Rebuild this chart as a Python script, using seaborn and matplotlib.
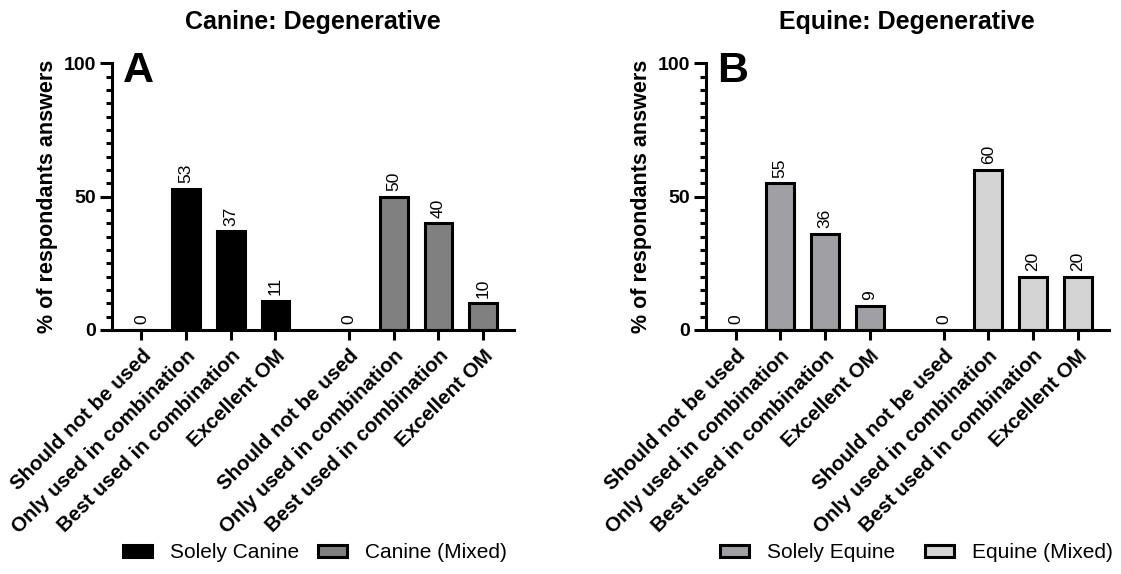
import numpy as np
import pandas as pd
import matplotlib
matplotlib.use("Agg")
import matplotlib.pyplot as plt
from matplotlib.patches import Patch
from matplotlib.ticker import MultipleLocator
import seaborn as sns

# Survey answers (% of respondents) per rating category
categories = ["Should not be used", "Only used in combination",
              "Best used in combination", "Excellent OM"]
canine_solely = [0, 53, 37, 11]
canine_mixed = [0, 50, 40, 10]
equine_solely = [0, 55, 36, 9]
equine_mixed = [0, 60, 20, 20]

panels = [
    dict(title="Canine: Degenerative", letter="A",
         groups=["Solely Canine", "Canine (Mixed)"],
         values=[canine_solely, canine_mixed],
         colors=["#000000", "#808080"]),
    dict(title="Equine: Degenerative", letter="B",
         groups=["Solely Equine", "Equine (Mixed)"],
         values=[equine_solely, equine_mixed],
         colors=["#a0a0a4", "#d4d4d4"]),
]

sns.set_style("ticks")
plt.rcParams["font.family"] = ["Liberation Sans", "DejaVu Sans"]
plt.rcParams.update({
    "axes.linewidth": 2.2,
    "text.color": "black",
    "axes.labelcolor": "black",
    "axes.edgecolor": "black",
    "xtick.color": "black",
    "ytick.color": "black",
})

fig = plt.figure(figsize=(11.21, 5.74), dpi=100)
axes_rects = [[0.0999, 0.4251, 0.3586, 0.4646],
              [0.6298, 0.4251, 0.3591, 0.4646]]
legend_x = [0.281, 0.8176]
legend_colsp = [0.9, 1.45]

GROUP_STEP = 4.65  # offset of the second group along the x axis

for p, rect, lx, csp in zip(panels, axes_rects, legend_x, legend_colsp):
    ax = fig.add_axes(rect)
    rows = []
    for g, (name, vals) in enumerate(zip(p["groups"], p["values"])):
        for i, (cat, v) in enumerate(zip(categories, vals)):
            rows.append(dict(pos=i + g * GROUP_STEP, value=v, group=name, cat=cat))
    df = pd.DataFrame(rows)

    sns.barplot(data=df, x="pos", y="value", hue="group",
                hue_order=p["groups"], palette=p["colors"],
                native_scale=True, dodge=False, width=0.62,
                edgecolor="black", linewidth=2.2, errorbar=None,
                legend=False, ax=ax)

    for cont, vals in zip(ax.containers, p["values"]):
        ax.bar_label(cont, labels=[f"{v:.0f}" for v in vals], rotation=90,
                     padding=4, fontsize=12.5, color="black")

    ax.set_xlim(-0.66, 8.34)
    ax.set_ylim(0, 100)
    ax.set_yticks([0, 50, 100])
    ax.yaxis.set_minor_locator(MultipleLocator(5))
    ax.set_xticks(df["pos"].to_numpy())
    ax.set_xticklabels(df["cat"].tolist(), rotation=45, ha="right",
                       rotation_mode="anchor", fontweight="bold", fontsize=14.8)
    for lab in ax.get_yticklabels():
        lab.set_fontweight("bold")
        lab.set_fontsize(14)
    ax.tick_params(axis="y", which="major", length=8.5, width=2.2, pad=3)
    ax.tick_params(axis="y", which="minor", length=4.5, width=2.2)
    ax.tick_params(axis="x", which="major", length=7.5, width=2.2, pad=4)
    ax.tick_params(axis="x", which="minor", length=0)
    sns.despine(ax=ax)

    ax.set_xlabel("")
    ax.set_ylabel("% of respondants answers", fontweight="bold",
                  fontsize=15.5, labelpad=4)
    ax.set_title(p["title"], fontweight="bold", fontsize=18, pad=25)
    ax.text(0.028, 1.045, p["letter"], transform=ax.transAxes,
            fontsize=31, fontweight="bold", ha="left", va="top")

    handles = [Patch(facecolor=c, edgecolor="black", linewidth=2.2, label=n)
               for n, c in zip(p["groups"], p["colors"])]
    fig.legend(handles=handles, loc="center", ncol=2,
               bbox_to_anchor=(lx, 0.0366), frameon=False, fontsize=15,
               handlelength=1.4, handleheight=0.55, handletextpad=0.85,
               columnspacing=csp)

fig.savefig("out.png", dpi=100)
